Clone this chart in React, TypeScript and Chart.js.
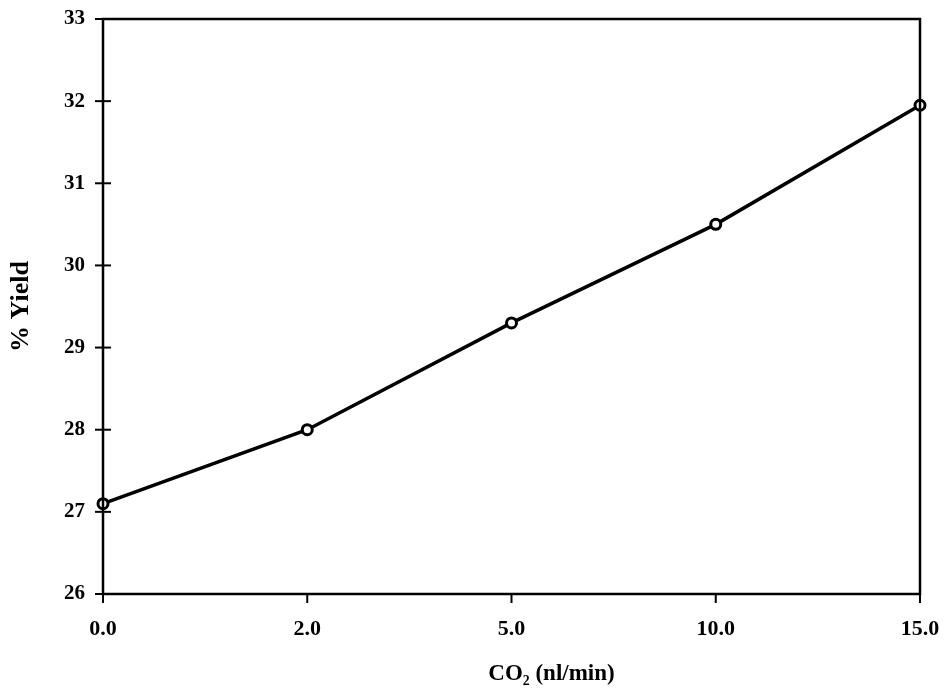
import React, { useEffect, useRef } from "react";
import { Chart, registerables } from "chart.js";

Chart.register(...registerables);

const categories = ["0.0", "2.0", "5.0", "10.0", "15.0"];
const yieldValues = [27.1, 28.0, 29.3, 30.5, 31.95];
const yMin = 26;
const yMax = 33;
const xTitle = "CO\u2082 (nl/min)";
const yTitle = "% Yield";

const serif = "'Liberation Serif', 'Times New Roman', serif";

const framePlugin = {
  id: "frameAndTicks",
  afterDatasetsDraw(chart: any) {
    const { ctx, chartArea, scales } = chart;
    const { left, right, top, bottom } = chartArea;
    ctx.save();
    ctx.strokeStyle = "#000";
    ctx.lineWidth = 2.5;
    ctx.strokeRect(left, top, right - left, bottom - top);
    ctx.lineWidth = 2;
    const ys = scales.y;
    for (let v = yMin; v <= yMax; v++) {
      const py = ys.getPixelForValue(v);
      ctx.beginPath();
      ctx.moveTo(left - 8, py);
      ctx.lineTo(left + 8, py);
      ctx.stroke();
    }
    const xs = scales.x;
    categories.forEach((_, i) => {
      const px = xs.getPixelForValue(i);
      ctx.beginPath();
      ctx.moveTo(px, bottom);
      ctx.lineTo(px, bottom + 9);
      ctx.stroke();
    });
    ctx.fillStyle = "#000";
    ctx.font = "bold 23px " + serif;
    ctx.textAlign = "center";
    ctx.textBaseline = "middle";
    ctx.fillText(xTitle, (left + right) / 2 + 40, 674);
    ctx.restore();
  },
};

export default function App() {
  const ref = useRef<HTMLCanvasElement>(null);
  useEffect(() => {
    if (!ref.current) return;
    const chart = new Chart(ref.current, {
      type: "line",
      data: {
        labels: categories,
        datasets: [
          {
            data: yieldValues,
            borderColor: "#000",
            borderWidth: 3.5,
            pointRadius: 5,
            pointBackgroundColor: "#fff",
            pointBorderColor: "#000",
            pointBorderWidth: 3,
            tension: 0,
            clip: false as any,
          },
        ],
      },
      options: {
        responsive: false,
        animation: false,
        layout: { padding: { left: 0, right: 25, top: 19, bottom: 0 } },
        plugins: { legend: { display: false }, tooltip: { enabled: false } },
        scales: {
          x: {
            type: "category",
            offset: false,
            grid: { display: false, drawTicks: false },
            border: { display: false },
            ticks: {
              color: "#000",
              padding: 22,
              maxRotation: 0,
              font: { family: serif, size: 22, weight: "bold" },
            },
            afterFit: (s: any) => {
              s.height = 101;
              s.paddingLeft = 0;
              s.paddingRight = 0;
            },
          },
          y: {
            min: yMin,
            max: yMax,
            grid: { display: false, drawTicks: false },
            border: { display: false },
            ticks: {
              stepSize: 1,
              color: "#000",
              padding: 18,
              font: { family: serif, size: 21, weight: "bold" },
            },
            title: {
              display: true,
              text: yTitle,
              color: "#000",
              padding: { top: 6, bottom: 0 },
              font: { family: serif, size: 26, weight: "bold" },
            },
            afterFit: (s: any) => {
              s.width = 103;
              s.paddingTop = 0;
              s.paddingBottom = 0;
            },
          },
        },
      },
      plugins: [framePlugin],
    });
    return () => chart.destroy();
  }, []);
  return (
    <div style={{ position: "fixed", left: 0, top: 0, width: 945, height: 695, background: "#fff" }}>
      <canvas ref={ref} width={945} height={695} style={{ display: "block" }} />
    </div>
  );
}
